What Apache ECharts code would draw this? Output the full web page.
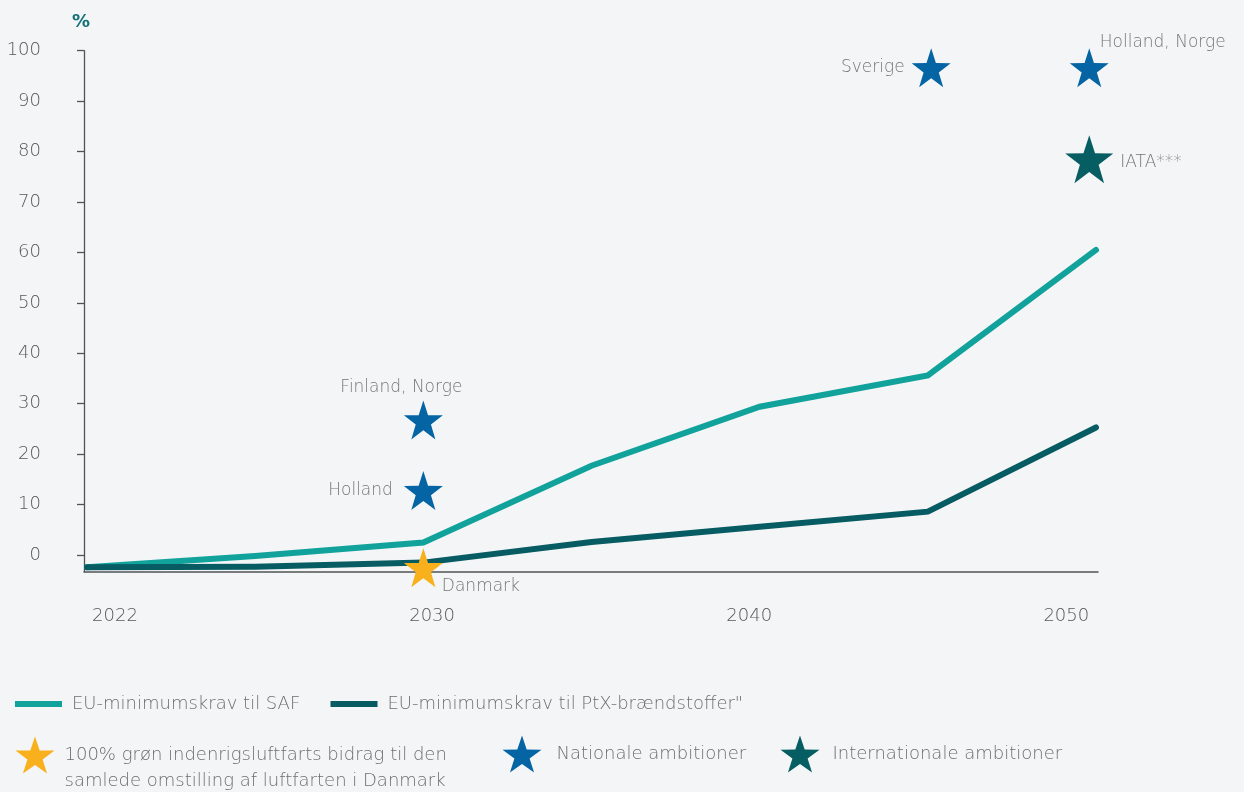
<!DOCTYPE html>
<html>
<head>
<meta charset="utf-8">
<script src="https://cdn.jsdelivr.net/npm/echarts@6/dist/echarts.min.js"></script>
<style>
  html, body { margin: 0; padding: 0; background: #f4f5f7; }
  #chart { width: 1244px; height: 792px; }
</style>
</head>
<body>
<div id="chart"></div>
<script>
// Years at which the EU minimum requirements are stated
const years = [2020, 2025, 2030, 2035, 2040, 2045, 2050];
// EU minimum share of SAF (%)
const safShare = [-2.4, -0.2, 2.5, 17.7, 29.4, 35.6, 60.5];
// EU minimum share of PtX fuels (%)
const ptxShare = [-2.4, -2.3, -1.5, 2.6, 5.6, 8.6, 25.3];
// Tick values on the share axis
const yTickValues = [0, 10, 20, 30, 40, 50, 60, 70, 80, 90, 100];
// Labels written along the time axis
const yearLabels = ['2022', '2030', '2040', '2050'];

// Ambitions: [label, year, share %]
const danishAmbition = [['Danmark', 2030, -2.5]];
const nationalAmbitions = [
  ['Finland, Norge', 2030, 26.8],
  ['Holland', 2030, 12.8],
  ['Sverige', 2045.1, 96.6],
  ['Holland, Norge', 2049.8, 96.6]
];
const internationalAmbitions = [['IATA***', 2049.8, 78.5]];

// Series names
const safName = 'EU-minimumskrav til SAF';
const ptxName = 'EU-minimumskrav til PtX-brændstoffer"';
const danishName = '100% grøn indenrigsluftfarts bidrag til den samlede omstilling af luftfarten i Danmark';
const nationalName = 'Nationale ambitioner';
const internationalName = 'Internationale ambitioner';

// Where each ambition's label sits around its star
const labelPlacement = {
  'Danmark':        { position: 'right', distance: -1, offset: [0, 19] },
  'Finland, Norge': { position: 'top', distance: 4, offset: [-22, 0] },
  'Holland':        { position: 'left', distance: 11, offset: [0, 0] },
  'Sverige':        { position: 'left', distance: 7, offset: [0, 0] },
  'Holland, Norge': { position: 'right', distance: -9, offset: [0, -25] },
  'IATA***':        { position: 'right', distance: 7, offset: [0, 3] }
};

const FONT = '"DejaVu Sans", sans-serif';
const SAF_COLOR = '#12a29c';
const PTX_COLOR = '#075c63';
const BLUE = '#0565a4';
const TEAL = '#065e62';
const YELLOW = '#f8b01c';
const LABEL_GREY = '#767676';
const AXIS_GREY = '#585858';
const LEGEND_GREY = '#6e6e6e';

// Five-pointed star outline as an ECharts path symbol
function starPath(innerRatio) {
  let d = '';
  for (let i = 0; i < 10; i++) {
    const r = i % 2 === 0 ? 50 : 50 * innerRatio;
    const a = (-90 + 36 * i) * Math.PI / 180;
    d += (i === 0 ? 'M' : 'L') + (50 + r * Math.cos(a)).toFixed(2) + ' ' + (50 + r * Math.sin(a)).toFixed(2) + ' ';
  }
  return 'path://' + d + 'Z';
}
const STAR = starPath(0.39);

function toLine(values) {
  return years.map((y, i) => [y, values[i]]);
}

function toStars(list) {
  return list.map(([name, year, share]) => ({
    name: name,
    value: [year, share],
    label: Object.assign({ show: true }, labelPlacement[name])
  }));
}

const starLabel = {
  show: true,
  formatter: '{b}',
  color: LABEL_GREY,
  fontFamily: FONT,
  fontWeight: 200,
  fontSize: 17
};

const legendText = {
  color: LEGEND_GREY,
  fontFamily: FONT,
  fontWeight: 200,
  fontSize: 18
};

const chart = echarts.init(document.getElementById('chart'), null, { renderer: 'canvas' });

chart.setOption({
  backgroundColor: '#f4f5f7',
  animation: false,
  grid: { left: 84, right: 146, top: 50.7, bottom: 220.3 },
  xAxis: [
    {
      type: 'value',
      min: 2019.91,
      max: 2050.06,
      axisLine: { show: true, onZero: false, lineStyle: { color: '#4f5454', width: 1.5 } },
      axisTick: { show: false },
      axisLabel: { show: false },
      splitLine: { show: false }
    },
    {
      // positions the year labels beneath the time axis
      type: 'value',
      position: 'bottom',
      min: -0.0978,
      max: 3.1,
      axisLine: { show: false, onZero: false },
      axisTick: { show: false },
      splitLine: { show: false },
      axisLabel: {
        customValues: yearLabels.map((_, i) => i),
        formatter: v => yearLabels[Math.round(v)],
        margin: 36,
        color: AXIS_GREY,
        fontFamily: FONT,
        fontWeight: 200,
        fontSize: 18
      }
    }
  ],
  yAxis: {
    type: 'value',
    min: -3.3,
    max: 100,
    name: '%',
    nameLocation: 'end',
    nameGap: 19,
    nameTextStyle: {
      color: '#17717a',
      fontFamily: FONT,
      fontWeight: 'bold',
      fontSize: 18,
      align: 'center',
      padding: [0, 6, 0, 0]
    },
    axisLine: { show: true, onZero: false, lineStyle: { color: '#4f5454', width: 1.3 } },
    axisTick: { show: true, length: 7, customValues: yTickValues, lineStyle: { color: '#4f5454', width: 1.3 } },
    axisLabel: {
      customValues: yTickValues,
      margin: 43,
      color: AXIS_GREY,
      fontFamily: FONT,
      fontWeight: 200,
      fontSize: 18
    },
    splitLine: { show: false }
  },
  legend: [
    {
      data: [{ name: safName }],
      left: 15, top: 693, padding: 0,
      icon: 'rect', itemWidth: 47, itemHeight: 6,
      selectedMode: false,
      textStyle: Object.assign({ padding: [0, 0, 0, 5], lineHeight: 22 }, legendText)
    },
    {
      data: [{ name: ptxName }],
      left: 330.5, top: 693, padding: 0,
      icon: 'rect', itemWidth: 47, itemHeight: 6,
      selectedMode: false,
      textStyle: Object.assign({ padding: [0, 0, 0, 5], lineHeight: 22 }, legendText)
    },
    {
      data: [{ name: danishName }],
      left: 15.5, top: 716, padding: 0,
      icon: STAR, itemWidth: 39, itemHeight: 39,
      selectedMode: false,
      // blank first line keeps the first text line level with the star
      formatter: name => '\n' + name.replace(' samlede', '\nsamlede'),
      textStyle: Object.assign({ padding: [0, 0, 0, 5], lineHeight: 26 }, legendText)
    },
    {
      data: [{ name: nationalName }],
      left: 502.5, top: 735.5, padding: 0,
      icon: STAR, itemWidth: 39, itemHeight: 39,
      selectedMode: false,
      textStyle: Object.assign({ padding: [0, 0, 0, 10], lineHeight: 26 }, legendText)
    },
    {
      data: [{ name: internationalName }],
      left: 780.5, top: 735.5, padding: 0,
      icon: STAR, itemWidth: 39, itemHeight: 39,
      selectedMode: false,
      textStyle: Object.assign({ padding: [0, 0, 0, 8], lineHeight: 26 }, legendText)
    }
  ],
  series: [
    {
      name: safName,
      type: 'line',
      color: SAF_COLOR,
      data: toLine(safShare),
      showSymbol: false,
      lineStyle: { width: 6, cap: 'round', join: 'miter', color: SAF_COLOR },
      z: 2
    },
    {
      name: ptxName,
      type: 'line',
      color: PTX_COLOR,
      data: toLine(ptxShare),
      showSymbol: false,
      lineStyle: { width: 6, cap: 'round', join: 'miter', color: PTX_COLOR },
      z: 2
    },
    {
      name: danishName,
      type: 'scatter',
      color: YELLOW,
      symbol: STAR,
      symbolSize: [39, 39],
      itemStyle: { opacity: 1 },
      data: toStars(danishAmbition),
      label: starLabel,
      z: 3
    },
    {
      name: nationalName,
      type: 'scatter',
      color: BLUE,
      symbol: STAR,
      symbolSize: [39, 39],
      itemStyle: { opacity: 1 },
      data: toStars(nationalAmbitions),
      label: starLabel,
      z: 3
    },
    {
      name: internationalName,
      type: 'scatter',
      color: TEAL,
      symbol: STAR,
      symbolSize: [48, 48],
      itemStyle: { opacity: 1 },
      data: toStars(internationalAmbitions),
      label: starLabel,
      z: 3
    }
  ]
});
</script>
</body>
</html>
